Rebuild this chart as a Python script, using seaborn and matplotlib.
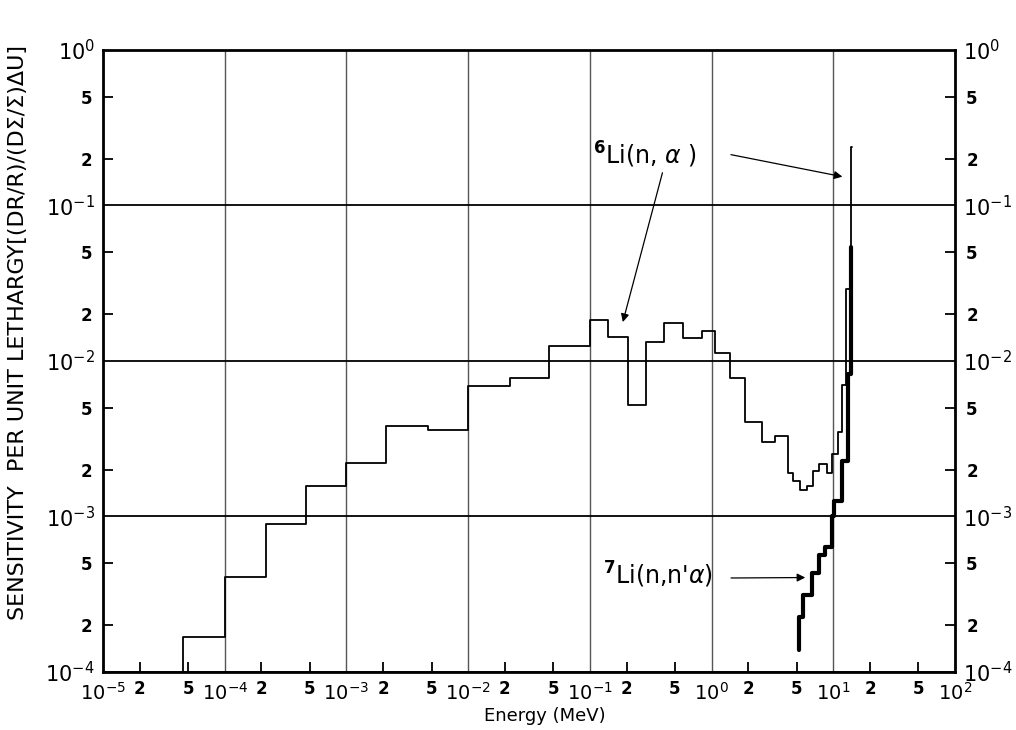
import matplotlib
matplotlib.use("Agg")
import numpy as np
import pandas as pd
import seaborn as sns
import matplotlib.pyplot as plt
from matplotlib.ticker import FixedLocator, FixedFormatter

# ---- data ----
# step curves: value sens[i] holds from energy[i] to energy[i+1]
li6_energy = [4.5e-5, 4.5e-5, 1e-4, 2.2e-4, 4.65e-4, 1e-3, 2.1e-3, 4.65e-3, 1e-2, 2.2e-2,
              4.65e-2, 0.1, 0.142, 0.204, 0.288, 0.404, 0.578, 0.84, 1.07, 1.41, 1.89,
              2.59, 3.29, 4.23, 4.65, 5.35, 6.05, 6.78, 7.6, 8.8, 9.7, 10.9, 11.8, 12.6,
              13.9, 14.1, 14.2]
li6_sens = [1e-4, 1.68e-4, 4.1e-4, 9.0e-4, 1.57e-3, 2.2e-3, 3.8e-3, 3.6e-3, 6.9e-3, 7.8e-3,
            1.25e-2, 1.84e-2, 1.43e-2, 5.2e-3, 1.33e-2, 1.75e-2, 1.40e-2, 1.55e-2, 1.12e-2,
            7.8e-3, 4.07e-3, 3.0e-3, 3.3e-3, 1.89e-3, 1.69e-3, 1.48e-3, 1.56e-3, 1.95e-3,
            2.19e-3, 1.89e-3, 2.54e-3, 3.5e-3, 7.0e-3, 2.9e-2, 1.2e-2, 0.237, 0.237]

li7_energy = [5.24, 5.24, 5.68, 6.64, 7.64, 8.55, 9.68, 10.2, 11.7, 13.3, 13.9, 14.0]
li7_sens = [1.38e-4, 2.27e-4, 3.12e-4, 4.3e-4, 5.65e-4, 6.4e-4, 1.0e-3, 1.25e-3, 2.26e-3,
            8.3e-3, 5.4e-2, 5.4e-2]

x_decades = [-5, -4, -3, -2, -1, 0, 1, 2]
y_decades = [-4, -3, -2, -1, 0]
minor_mults = [2, 5]

label6 = r"$^{\mathbf{6}}$Li(n, $\alpha$ )"
label7 = r"$^{\mathbf{7}}$Li(n,n'$\alpha$)"
xlabel = "Energy (MeV)"
ylabel = "SENSITIVITY  PER UNIT LETHARGY[(DR/R)/(D\u03a3/\u03a3)\u0394U]"

# ---- figure ----
sns.set_theme(style="white")
plt.rcParams['font.family'] = ['DejaVu Sans']
plt.rcParams['mathtext.fontset'] = 'dejavusans'
plt.rcParams['text.color'] = 'black'
plt.rcParams['axes.labelcolor'] = 'black'
plt.rcParams['xtick.color'] = 'black'
plt.rcParams['ytick.color'] = 'black'

fig = plt.figure(figsize=(10.16, 7.30), dpi=100)
ax = fig.add_axes([0.1014, 0.0795, 0.8386, 0.852])
ax.set_xscale('log')
ax.set_yscale('log')
ax.set_xlim(10.0 ** x_decades[0], 10.0 ** x_decades[-1])
ax.set_ylim(10.0 ** y_decades[0], 10.0 ** y_decades[-1])

df6 = pd.DataFrame({'energy': li6_energy, 'sens': li6_sens})
df7 = pd.DataFrame({'energy': li7_energy, 'sens': li7_sens})
sns.lineplot(data=df6, x='energy', y='sens', drawstyle='steps-post', estimator=None,
             sort=False, color='black', lw=1.3, ax=ax, zorder=3)
sns.lineplot(data=df7, x='energy', y='sens', drawstyle='steps-post', estimator=None,
             sort=False, color='black', lw=3.0, ax=ax, zorder=3)

# ticks
xmaj = [10.0 ** d for d in x_decades]
xmin = [m * 10.0 ** d for d in x_decades[:-1] for m in minor_mults]
ymaj = [10.0 ** d for d in y_decades]
ymin = [m * 10.0 ** d for d in y_decades[:-1] for m in minor_mults]

ax.xaxis.set_major_locator(FixedLocator(xmaj))
ax.xaxis.set_major_formatter(FixedFormatter([r"$10^{%d}$" % d for d in x_decades]))
ax.xaxis.set_minor_locator(FixedLocator(xmin))
ax.xaxis.set_minor_formatter(FixedFormatter([str(m) for d in x_decades[:-1] for m in minor_mults]))
ax.yaxis.set_major_locator(FixedLocator(ymaj))
ax.yaxis.set_major_formatter(FixedFormatter([r"$10^{%d}$" % d for d in y_decades]))
ax.yaxis.set_minor_locator(FixedLocator(ymin))
ax.yaxis.set_minor_formatter(FixedFormatter([str(m) for d in y_decades[:-1] for m in minor_mults]))

ax.tick_params(axis='both', which='major', direction='in', length=0, labelsize=15, pad=6,
               colors='black')
ax.tick_params(axis='both', which='minor', direction='in', length=7, width=1.3,
               labelsize=12, pad=8, colors='black')
ax.tick_params(axis='x', which='major', pad=7, labelsize=14)
ax.tick_params(axis='x', which='minor', pad=6)
ax.tick_params(axis='y', which='both', left=True, right=True, labelleft=True, labelright=True)
ax.tick_params(axis='x', which='both', bottom=True, top=False)
for lab in ax.get_xticklabels(minor=True) + ax.get_yticklabels(minor=True):
    lab.set_fontweight('bold')

# grid
ax.grid(False)
ax.grid(which='major', axis='y', color='black', lw=1.3)
ax.grid(which='major', axis='x', color='#555555', lw=1.0)

for s in ax.spines.values():
    s.set_visible(True)
    s.set_color('black')
    s.set_linewidth(2.0)

ax.set_xlabel(xlabel, fontsize=13, color='black')
ax.xaxis.set_label_coords(0.518, -0.056)
ax.set_ylabel(ylabel, fontsize=16, color='black')
ax.yaxis.set_label_coords(-0.088, 0.545)

# annotations
ax.text(0.106, 0.211, label6, fontsize=17, ha='left', va='center', zorder=5, color='black')
ax.annotate('', xy=(0.184, 0.0171), xytext=(0.40, 0.169),
            arrowprops=dict(arrowstyle='-|>', color='black', lw=0.9, mutation_scale=12))
ax.annotate('', xy=(12.5, 0.152), xytext=(1.37, 0.214),
            arrowprops=dict(arrowstyle='-|>', color='black', lw=0.9, mutation_scale=12))
ax.text(0.128, 4.2e-4, label7, fontsize=17, ha='left', va='center', zorder=5, color='black')
ax.annotate('', xy=(6.2, 4.05e-4), xytext=(1.37, 4.02e-4),
            arrowprops=dict(arrowstyle='-|>', color='black', lw=0.9, mutation_scale=12))

fig.savefig("out.png", dpi=100, facecolor='white')
